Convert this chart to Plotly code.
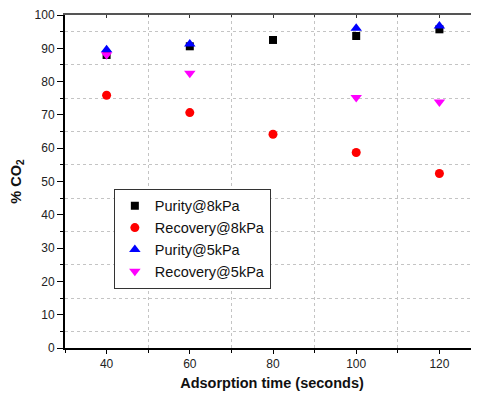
import plotly.graph_objects as go

times = [40, 60, 80, 100, 120]
times_5k = [40, 60, 100, 120]
purity_8k = [88.0, 90.6, 92.5, 93.7, 95.7]
recovery_8k = [75.9, 70.7, 64.2, 58.7, 52.4]
purity_5k = [89.6, 91.3, 96.0, 96.7]
recovery_5k = [88.1, 82.5, 75.2, 73.9]

fnt = "Liberation Sans, Arial, sans-serif"

fig = go.Figure()
fig.add_trace(go.Scatter(x=times, y=purity_8k, mode="markers", name="Purity@8kPa",
                         marker=dict(symbol="square", size=8, color="black")))
fig.add_trace(go.Scatter(x=times, y=recovery_8k, mode="markers", name="Recovery@8kPa",
                         marker=dict(symbol="circle", size=9, color="#ff0000")))
fig.add_trace(go.Scatter(x=times_5k, y=purity_5k, mode="markers", name="Purity@5kPa",
                         marker=dict(symbol="triangle-up", size=10, color="#0000ff")))
fig.add_trace(go.Scatter(x=times_5k, y=recovery_5k, mode="markers", name="Recovery@5kPa",
                         marker=dict(symbol="triangle-down", size=10, color="#ff00ff")))
fig.add_trace(go.Scatter(x=[], y=[], xaxis="x2", showlegend=False, hoverinfo="skip"))

xr = [30, 129.52]
# the page body adds an 8px offset, so the figure is sized to fit the window
fig.update_layout(
    width=471, height=393,
    margin=dict(l=57, r=0, t=7, b=53),
    paper_bgcolor="white", plot_bgcolor="white",
    font=dict(family=fnt, color="#222"),
    showlegend=True,
    legend=dict(x=0.118, y=0.478, xanchor="left", yanchor="top",
                bordercolor="#333", borderwidth=1, bgcolor="white",
                font=dict(size=14.5, family=fnt, color="#111"),
                itemsizing="trace", tracegroupgap=0),
    xaxis=dict(range=xr, tickvals=[40, 60, 80, 100, 120], showgrid=False, zeroline=False,
               showline=True, linecolor="black", linewidth=2,
               ticks="outside", ticklen=4, tickwidth=1, tickcolor="black",
               tickfont=dict(size=12, family=fnt, color="#222"),
               ticklabeloverflow="allow",
               minor=dict(tickvals=[30, 50, 70, 90, 110], ticks="outside", ticklen=3,
                          tickcolor="black", showgrid=True, gridcolor="#c4c4c4",
                          griddash="dot", gridwidth=1),
               title=dict(text="<b>Adsorption time (seconds)</b>",
                          font=dict(size=14.5, family=fnt, color="#111"), standoff=7),
               automargin=False),
    xaxis2=dict(range=xr, overlaying="x", side="top", showline=True, linecolor="#555",
                linewidth=2, ticks="inside", ticklen=3, tickcolor="#333",
                tickvals=[40, 60, 80, 100, 120], showticklabels=False, showgrid=False,
                zeroline=False,
                minor=dict(tickvals=[50, 70, 90, 110], ticks="inside", ticklen=2,
                           tickcolor="#333")),
    yaxis=dict(range=[0, 100], dtick=10, showgrid=False, zeroline=False,
               showline=True, linecolor="black", linewidth=2,
               ticks="outside", ticklen=6, tickwidth=1, tickcolor="black",
               tickfont=dict(size=12, family=fnt, color="#222"),
               ticklabeloverflow="allow",
               minor=dict(tickvals=[5, 15, 25, 35, 45, 55, 65, 75, 85, 95],
                          ticks="outside", ticklen=3, tickcolor="black",
                          showgrid=True, gridcolor="#c4c4c4", griddash="dot", gridwidth=1),
               title=dict(text="<b>% CO<sub>2</sub></b>",
                          font=dict(size=14.5, family=fnt, color="#111"), standoff=10),
               automargin=False),
)

fig.write_html("out.html")
